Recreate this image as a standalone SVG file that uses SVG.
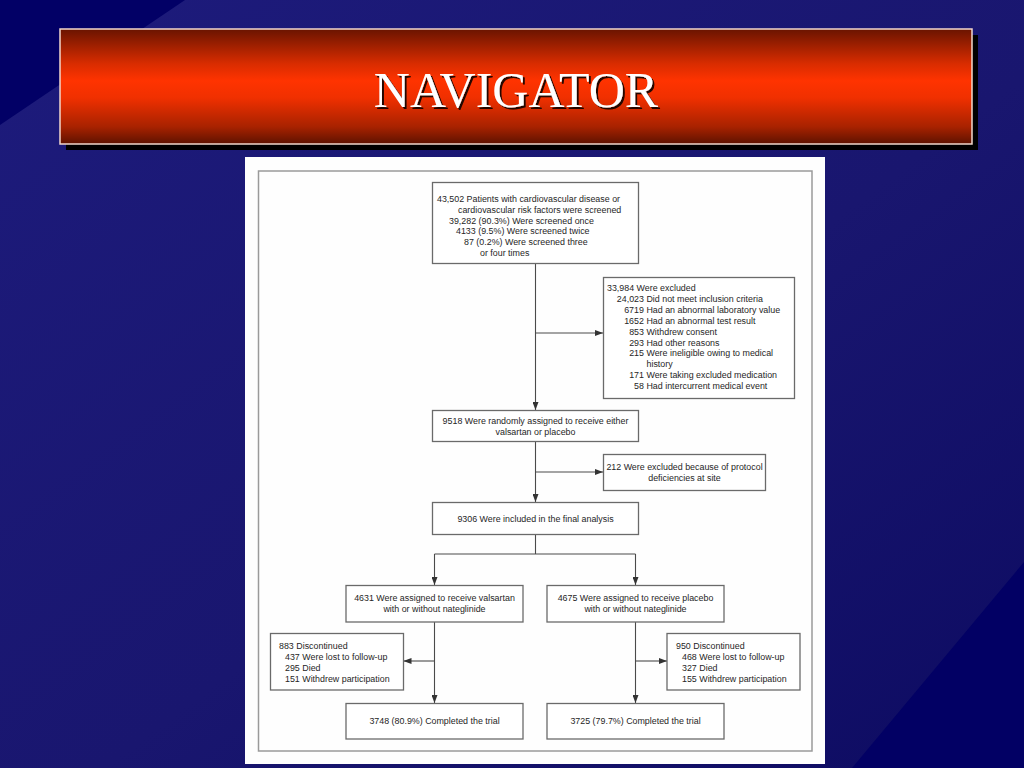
<svg xmlns="http://www.w3.org/2000/svg" width="1024" height="768" viewBox="0 0 1024 768">
<style>
.bx{fill:#fff;stroke:#6a6a6a;stroke-width:1.3}
.t{font-family:"Liberation Sans",Arial,sans-serif;font-size:8.9px;fill:#262626}
.c{text-anchor:middle}
.ln{fill:none;stroke:#4a4a4a;stroke-width:1.1}
.ar{fill:none;stroke:#4a4a4a;stroke-width:1.1;marker-end:url(#ah)}
</style>
<defs>
<linearGradient id="bg" x1="0" y1="0" x2="1" y2="1">
<stop offset="0" stop-color="#1d1b7c"/>
<stop offset="0.55" stop-color="#19166f"/>
<stop offset="1" stop-color="#0d0b62"/>
</linearGradient>
<linearGradient id="ban" x1="0" y1="0" x2="0" y2="1">
<stop offset="0" stop-color="#6a1400"/>
<stop offset="0.3" stop-color="#d82c00"/>
<stop offset="0.45" stop-color="#ff3300"/>
<stop offset="0.6" stop-color="#f03000"/>
<stop offset="0.85" stop-color="#a82200"/>
<stop offset="1" stop-color="#5e1200"/>
</linearGradient>
<filter id="ts" x="-10%" y="-20%" width="130%" height="150%">
<feDropShadow dx="2" dy="2" stdDeviation="0.6" flood-color="#000" flood-opacity="0.85"/>
</filter>
<marker id="ah" viewBox="0 0 8 6" refX="8" refY="3" markerWidth="8" markerHeight="6" markerUnits="userSpaceOnUse" orient="auto">
<path d="M0,0 L8,3 L0,6 z" fill="#333"/>
</marker>
</defs>

<g id="background">
<rect x="0" y="0" width="1024" height="768" fill="url(#bg)"/>
<polygon points="0,0 185,0 0,125" fill="#020066"/>
<polygon points="852,768 1024,562 1024,768" fill="#020064"/>
</g>

<g id="title">
<rect x="66" y="35" width="912" height="115" fill="#000"/>
<rect x="60" y="29" width="912" height="115" fill="url(#ban)" stroke="#f2d8cc" stroke-width="1.5"/>
<text x="516" y="107" text-anchor="middle" font-family="'Liberation Serif','Times New Roman',serif" font-size="50" fill="#fff" filter="url(#ts)">NAVIGATOR</text>
</g>

<g id="panel">
<rect x="245" y="157" width="580" height="607" fill="#fefefe"/>
<rect x="258.5" y="171" width="553.5" height="580" fill="none" stroke="#9a9a9a" stroke-width="1.5"/>
</g>

<g id="connectors">
<line class="ar" x1="535.5" y1="264" x2="535.5" y2="410"/>
<line class="ar" x1="535.5" y1="333" x2="603" y2="333"/>
<line class="ar" x1="535.5" y1="442" x2="535.5" y2="502"/>
<line class="ar" x1="535.5" y1="472" x2="603" y2="472"/>
<polyline class="ln" points="535.5,535 535.5,554"/>
<polyline class="ln" points="434.5,554 635.5,554"/>
<line class="ar" x1="434.5" y1="554" x2="434.5" y2="585"/>
<line class="ar" x1="635.5" y1="554" x2="635.5" y2="585"/>
<line class="ar" x1="434.5" y1="622" x2="434.5" y2="703"/>
<line class="ar" x1="434.5" y1="661" x2="403.5" y2="661"/>
<line class="ar" x1="635.5" y1="622" x2="635.5" y2="703"/>
<line class="ar" x1="635.5" y1="661" x2="667" y2="661"/>
</g>

<g id="screened">
<rect class="bx" x="432.5" y="182.5" width="206" height="81"/>
<text class="t" x="437" y="202">43,502 Patients with cardiovascular disease or</text>
<text class="t" x="458" y="212.8">cardiovascular risk factors were screened</text>
<text class="t" x="449" y="223.6">39,282 (90.3%) Were screened once</text>
<text class="t" x="456" y="234.4">4133 (9.5%) Were screened twice</text>
<text class="t" x="464" y="245.2">87 (0.2%) Were screened three</text>
<text class="t" x="480" y="256">or four times</text>
</g>

<g id="excluded">
<rect class="bx" x="603.5" y="277.5" width="191" height="121"/>
<text class="t" x="607" y="291">33,984 Were excluded</text>
<text class="t" x="616.8" y="301.9">24,023 Did not meet inclusion criteria</text>
<text class="t" x="624.2" y="312.8">6719 Had an abnormal laboratory value</text>
<text class="t" x="624.2" y="323.7">1652 Had an abnormal test result</text>
<text class="t" x="629.2" y="334.6">853 Withdrew consent</text>
<text class="t" x="629.2" y="345.5">293 Had other reasons</text>
<text class="t" x="629.2" y="356.4">215 Were ineligible owing to medical</text>
<text class="t" x="646.5" y="367.3">history</text>
<text class="t" x="629.2" y="378.2">171 Were taking excluded medication</text>
<text class="t" x="634.1" y="389.1">58 Had intercurrent medical event</text>
</g>

<g id="randomized">
<rect class="bx" x="432.5" y="410.5" width="206" height="31"/>
<text class="t c" x="535.5" y="424">9518 Were randomly assigned to receive either</text>
<text class="t c" x="535.5" y="435">valsartan or placebo</text>
</g>

<g id="protocol">
<rect class="bx" x="603.5" y="454.5" width="162" height="36"/>
<text class="t c" x="684.5" y="470">212 Were excluded because of protocol</text>
<text class="t c" x="684.5" y="481">deficiencies at site</text>
</g>

<g id="final">
<rect class="bx" x="432.5" y="502.5" width="206" height="32"/>
<text class="t c" x="535.5" y="521.5">9306 Were included in the final analysis</text>
</g>

<g id="valsartan">
<rect class="bx" x="346" y="585.5" width="177" height="36.5"/>
<text class="t c" x="434.5" y="600.5">4631 Were assigned to receive valsartan</text>
<text class="t c" x="434.5" y="611.5">with or without nateglinide</text>
</g>

<g id="placebo">
<rect class="bx" x="547" y="585.5" width="177" height="36.5"/>
<text class="t c" x="635.5" y="600.5">4675 Were assigned to receive placebo</text>
<text class="t c" x="635.5" y="611.5">with or without nateglinide</text>
</g>

<g id="disc-valsartan">
<rect class="bx" x="270.5" y="633.5" width="133" height="56.5"/>
<text class="t" x="279" y="648.5">883 Discontinued</text>
<text class="t" x="285" y="660">437 Were lost to follow-up</text>
<text class="t" x="285" y="671">295 Died</text>
<text class="t" x="285" y="682">151 Withdrew participation</text>
</g>

<g id="disc-placebo">
<rect class="bx" x="667" y="633.5" width="133" height="56.5"/>
<text class="t" x="676" y="648.5">950 Discontinued</text>
<text class="t" x="682" y="660">468 Were lost to follow-up</text>
<text class="t" x="682" y="671">327 Died</text>
<text class="t" x="682" y="682">155 Withdrew participation</text>
</g>

<g id="completed-valsartan">
<rect class="bx" x="346" y="703.5" width="177" height="35.5"/>
<text class="t c" x="434.5" y="724">3748 (80.9%) Completed the trial</text>
</g>

<g id="completed-placebo">
<rect class="bx" x="547" y="703.5" width="177" height="35.5"/>
<text class="t c" x="635.5" y="724">3725 (79.7%) Completed the trial</text>
</g>
</svg>
